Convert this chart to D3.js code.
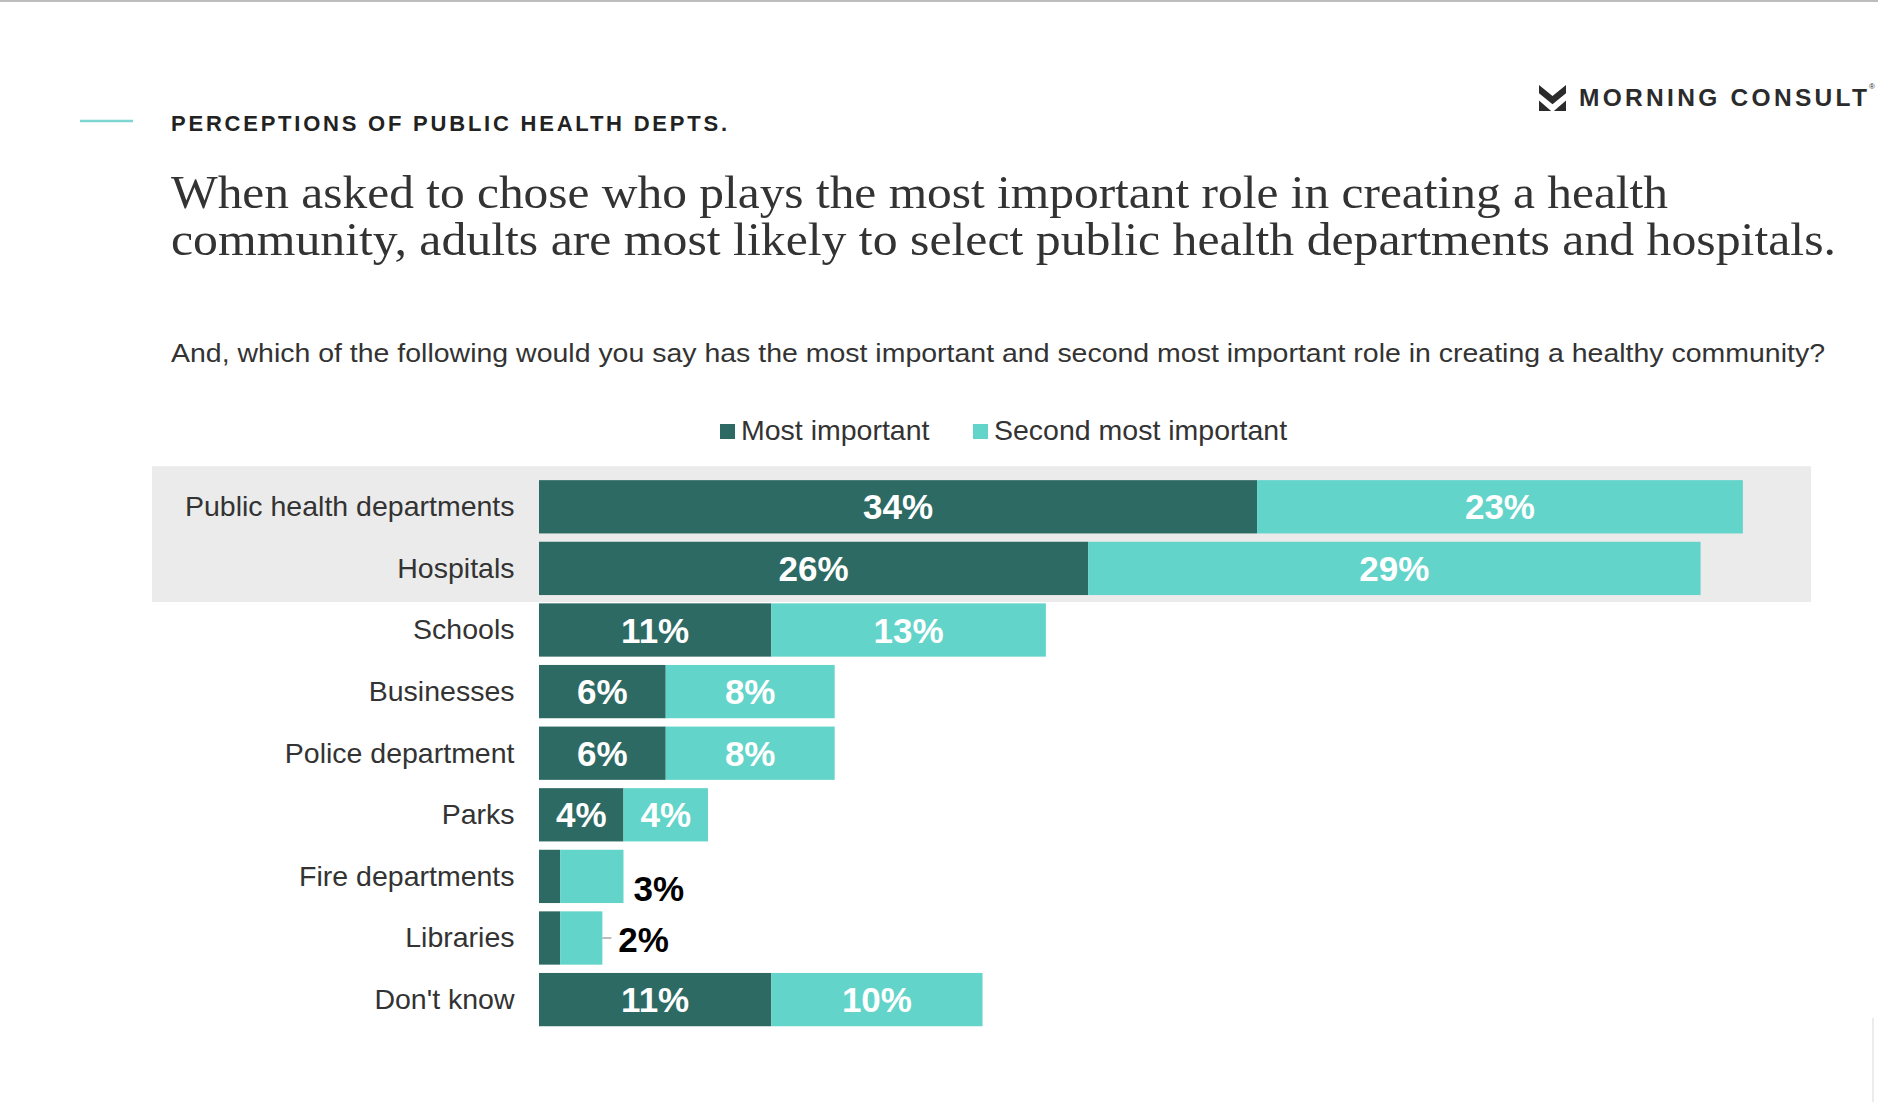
<!DOCTYPE html>
<html>
<head>
<meta charset="utf-8">
<script src="https://cdn.jsdelivr.net/npm/d3@7"></script>
<style>
  html, body { margin: 0; padding: 0; background: #fff; }
  svg { display: block; }
</style>
</head>
<body>
<div id="chart"></div>
<script>
// chart values
const categories = [
  'Public health departments', 'Hospitals', 'Schools', 'Businesses',
  'Police department', 'Parks', 'Fire departments', 'Libraries', "Don't know"
];
const mostImportant = [34, 26, 11, 6, 6, 4, 1, 1, 11];
const secondMost = [23, 29, 13, 8, 8, 4, 3, 2, 10];
const seriesNames = ['Most important', 'Second most important'];
const highlighted = ['Public health departments', 'Hospitals'];

const W = 1878, H = 1102;
const COLORS = ['#2e6a64', '#62d4c9'];
const SANS = '"Liberation Sans", Arial, Helvetica, sans-serif';
const SERIF = '"Liberation Serif", "Times New Roman", serif';

// small hand nudges for the outside labels
const outsideNudge = {
  'Fire departments': { dx: 10, dy: 12, leader: false },
  'Libraries': { dx: 16, dy: 1, leader: true }
};

const svg = d3.select('#chart').append('svg')
  .attr('width', W).attr('height', H)
  .attr('viewBox', `0 0 ${W} ${H}`);

// top rule of the slide
svg.append('rect').attr('x', 0).attr('y', 0).attr('width', W).attr('height', 2).attr('fill', '#bdbdbd');
svg.append('line').attr('x1', 1873).attr('x2', 1873).attr('y1', 1018).attr('y2', H)
  .attr('stroke', '#ececec').attr('stroke-width', 2);

// header
svg.append('line').attr('x1', 80).attr('x2', 133).attr('y1', 121).attr('y2', 121)
  .attr('stroke', '#7dd6cf').attr('stroke-width', 2.5);

svg.append('text')
  .attr('x', 171).attr('y', 130.5)
  .attr('font-family', SANS).attr('font-weight', 700).attr('font-size', 22)
  .attr('fill', '#222')
  .attr('textLength', 556).attr('lengthAdjust', 'spacing')
  .text('PERCEPTIONS OF PUBLIC HEALTH DEPTS.');

const titleLines = [
  { t: 'When asked to chose who plays the most important role in creating a health', y: 208, w: 1497 },
  { t: 'community, adults are most likely to select public health departments and hospitals.', y: 255, w: 1665 }
];
titleLines.forEach(l => {
  svg.append('text')
    .attr('x', 171).attr('y', l.y)
    .attr('font-family', SERIF).attr('font-size', 47)
    .attr('fill', '#333')
    .attr('textLength', l.w).attr('lengthAdjust', 'spacingAndGlyphs')
    .text(l.t);
});

svg.append('text')
  .attr('x', 171).attr('y', 361.5)
  .attr('font-family', SANS).attr('font-size', 26)
  .attr('fill', '#333')
  .attr('textLength', 1654).attr('lengthAdjust', 'spacingAndGlyphs')
  .text('And, which of the following would you say has the most important and second most important role in creating a healthy community?');

// logo
const logo = svg.append('g').attr('transform', 'translate(1539,85)');
const lw = 27, lh = 26;
logo.append('path')
  .attr('d', `M0,0 L${lw/2},${lh*0.42} L${lw},0 L${lw},${lh*0.32} L${lw/2},${lh*0.74} L0,${lh*0.32} Z`)
  .attr('fill', '#2b2b2b');
logo.append('path')
  .attr('d', `M0,${lh*0.6} L${lw*0.45},${lh} L0,${lh} Z M${lw},${lh*0.6} L${lw*0.55},${lh} L${lw},${lh} Z`)
  .attr('fill', '#2b2b2b');
svg.append('text')
  .attr('x', 1579).attr('y', 106)
  .attr('font-family', SANS).attr('font-weight', 700).attr('font-size', 24.5)
  .attr('fill', '#2b2b2b')
  .attr('textLength', 288).attr('lengthAdjust', 'spacing')
  .text('MORNING CONSULT');
svg.append('text')
  .attr('x', 1869).attr('y', 89)
  .attr('font-family', SANS).attr('font-size', 8)
  .attr('fill', '#2b2b2b')
  .text('®');

// legend
const legendX = [720, 973];
const legend = svg.append('g');
seriesNames.forEach((name, i) => {
  legend.append('rect')
    .attr('x', legendX[i]).attr('y', 424).attr('width', 15).attr('height', 15)
    .attr('fill', COLORS[i]);
  legend.append('text')
    .attr('x', legendX[i] + 21).attr('y', 440)
    .attr('font-family', SANS).attr('font-size', 28.5)
    .attr('fill', '#333')
    .text(name);
});

// scales
const x = d3.scaleLinear().domain([0, 60]).range([539, 539 + 60 * 21.12]);
const y = d3.scaleBand().domain(categories).range([476, 476 + 9 * 61.6])
  .paddingInner(0.135).paddingOuter(0.0675);
const bw = y.bandwidth();

// highlight band behind the top two rows
const hTop = y(highlighted[0]) - 14;
const hBottom = y(highlighted[highlighted.length - 1]) + bw + 7;
svg.append('rect')
  .attr('x', 152).attr('y', hTop)
  .attr('width', 1811 - 152).attr('height', hBottom - hTop)
  .attr('fill', '#ebebeb');

const rows = categories.map((c, i) => ({ cat: c, values: [mostImportant[i], secondMost[i]] }));
const stacked = d3.stack().keys([0, 1]).value((d, k) => d.values[k])(rows);

const barsG = svg.append('g');
stacked.forEach((layer, k) => {
  barsG.selectAll(null).data(layer).enter().append('rect')
    .attr('x', d => x(d[0]))
    .attr('y', d => y(d.data.cat))
    .attr('width', d => x(d[1]) - x(d[0]))
    .attr('height', bw)
    .attr('fill', COLORS[k]);
});

// category labels
svg.append('g').selectAll('text').data(categories).enter().append('text')
  .attr('x', 514.5)
  .attr('y', d => y(d) + bw / 2)
  .attr('dy', '0.33em')
  .attr('text-anchor', 'end')
  .attr('font-family', SANS).attr('font-size', 28.5)
  .attr('fill', '#333')
  .text(d => d);

// value labels
const labelsG = svg.append('g');
stacked.forEach((layer, k) => {
  layer.forEach(d => {
    const v = d.data.values[k];
    const segW = x(d[1]) - x(d[0]);
    const cy = y(d.data.cat) + bw / 2;
    if (segW >= 80) {
      labelsG.append('text')
        .attr('x', (x(d[0]) + x(d[1])) / 2)
        .attr('y', cy).attr('dy', '0.36em')
        .attr('text-anchor', 'middle')
        .attr('font-family', SANS).attr('font-weight', 700).attr('font-size', 35)
        .attr('fill', '#fff')
        .text(v + '%');
    } else if (k === stacked.length - 1) {
      const n = outsideNudge[d.data.cat] || { dx: 10, dy: 0, leader: false };
      if (n.leader) {
        labelsG.append('line')
          .attr('x1', x(d[1])).attr('x2', x(d[1]) + n.dx - 7)
          .attr('y1', cy).attr('y2', cy)
          .attr('stroke', '#a6a6a6').attr('stroke-width', 1.5);
      }
      labelsG.append('text')
        .attr('x', x(d[1]) + n.dx)
        .attr('y', cy + n.dy).attr('dy', '0.36em')
        .attr('font-family', SANS).attr('font-weight', 700).attr('font-size', 35)
        .attr('fill', '#000')
        .text(v + '%');
    }
  });
});
</script>
</body>
</html>
